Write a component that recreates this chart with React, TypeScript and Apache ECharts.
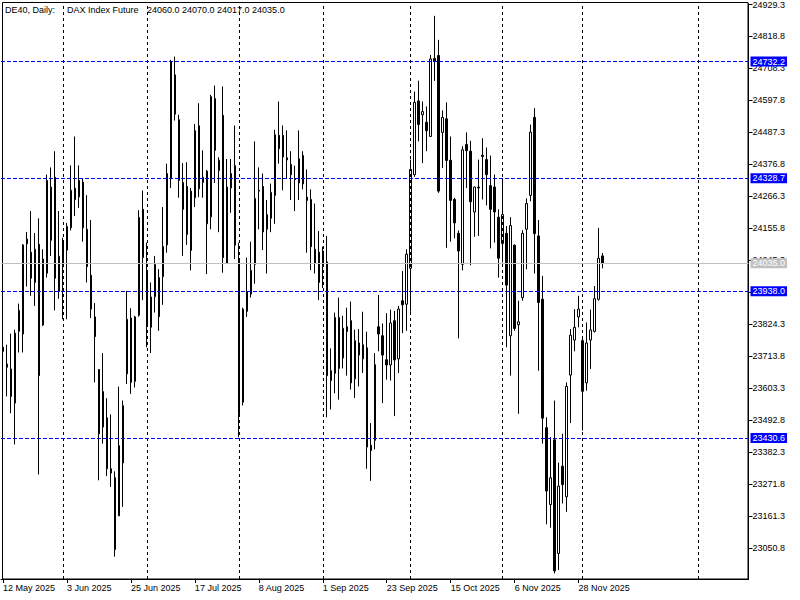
import React, { useEffect, useRef } from "react";
import * as echarts from "echarts";

// ---- Data ----
const opens = [
  23744, 23686, 23669, 23551, 23799, 23790, 24118, 24073, 23968, 24100,
  23821, 24000, 24298, 24332, 23937, 24022, 24080, 24157, 24294, 24264,
  24315, 24152, 23993, 23849, 23667, 23468, 23500, 23324, 23293, 23161,
  23344, 23652, 23845, 23626, 23855, 24221, 24010, 23813, 23919, 23985,
  23988, 24098, 24327, 24686, 24531, 24221, 24300, 24079, 24261, 24510,
  24314, 24353, 24195, 24604, 24355, 24546, 24034, 24295, 24372, 24049,
  23554, 23868, 23928, 24031, 24284, 24300, 24152, 24190, 24269, 24477,
  24477, 24399, 24376, 24327, 24312, 24407, 24263, 24255, 24034, 24073,
  24023, 24039, 23663, 23654, 23847, 23707, 23815, 23836, 23635, 23759,
  23704, 23742, 23405, 23422, 23815, 23784, 23701, 23683, 23836, 23704,
  23905, 23893, 24017, 24341, 24596, 24548, 24522, 24473, 24743, 24753,
  24487, 24534, 24391, 24255, 24138, 24031, 24445, 24422, 24212, 24298,
  24408, 24393, 24303, 24298, 24194, 24103, 24138, 23784, 24097, 23822,
  23916, 24152, 24269, 24539, 24129, 23910, 23466, 23200, 23424, 23031,
  23333, 23227, 23648, 23769, 23849, 23767, 23621, 23769, 23799, 23910,
  24060,
];
const highs = [
  23767, 23753, 23791, 23805, 23895, 24101, 24143, 24215, 24139, 24190,
  24083, 24341, 24366, 24422, 24215, 24123, 24174, 24373, 24473, 24373,
  24327, 24270, 24184, 23897, 23669, 23724, 23568, 23512, 23315, 23608,
  23560, 23939, 23879, 23853, 24218, 24286, 24106, 23968, 24060, 24014,
  24229, 24379, 24738, 24749, 24548, 24381, 24384, 24295, 24516, 24588,
  24425, 24357, 24617, 24649, 24401, 24646, 24395, 24395, 24511, 24106,
  23881, 24054, 24109, 24456, 24366, 24345, 24253, 24310, 24496, 24594,
  24511, 24494, 24422, 24372, 24494, 24422, 24359, 24290, 24241, 24146,
  24092, 24129, 23740, 23864, 23916, 23853, 23881, 23902, 23805, 23807,
  23867, 23798, 23482, 23724, 23925, 23826, 23862, 23874, 23870, 23887,
  24008, 24083, 24393, 24628, 24666, 24594, 24577, 24755, 24890, 24807,
  24563, 24591, 24473, 24261, 24148, 24439, 24487, 24458, 24300, 24393,
  24467, 24435, 24407, 24341, 24221, 24327, 24163, 24194, 24100, 23905,
  24149, 24259, 24514, 24571, 24184, 23991, 23502, 23433, 23560, 23345,
  23445, 23623, 23807, 23876, 23922, 23775, 23830, 23874, 23956, 24157,
  24070,
];
const lows = [
  23698, 23574, 23516, 23408, 23726, 23726, 23954, 23922, 23887, 23304,
  23818, 23985, 24060, 23872, 23912, 23841, 23841, 24148, 24198, 24226,
  24109, 23968, 23845, 23623, 23284, 23411, 23299, 23261, 23020, 23161,
  23192, 23617, 23583, 23605, 23850, 23907, 23744, 23724, 23864, 23801,
  23891, 24071, 24295, 24528, 24261, 24060, 24098, 24010, 24229, 24263,
  24261, 23997, 24152, 24312, 24142, 24002, 24034, 24209, 24049, 23433,
  23543, 23849, 23916, 23964, 24152, 24080, 23999, 24142, 24171, 24379,
  24287, 24327, 24253, 24215, 24253, 24290, 24071, 24011, 23999, 23907,
  23949, 23502, 23529, 23585, 23563, 23671, 23646, 23598, 23569, 23609,
  23655, 23324, 23282, 23391, 23730, 23551, 23632, 23629, 23506, 23655,
  23793, 23801, 23867, 24333, 24456, 24381, 24422, 24473, 24665, 24278,
  24364, 24088, 24109, 24121, 23775, 24010, 24295, 24028, 24126, 24129,
  24255, 24235, 24086, 24106, 23985, 24037, 23744, 23646, 23801, 23514,
  23905, 24014, 24249, 23999, 23663, 23411, 23132, 23120, 22962, 22974,
  23204, 23175, 23482, 23730, 23813, 23456, 23594, 23669, 23795, 23905,
  24017,
];
const closes = [
  23730, 23675, 23574, 23793, 23872, 24098, 24102, 23983, 24083, 23646,
  24049, 24321, 24114, 23983, 24059, 24108, 24162, 24287, 24255, 24321,
  24157, 24023, 23876, 23781, 23445, 23591, 23324, 23309, 23045, 23404,
  23542, 23841, 23623, 23849, 24193, 24054, 23816, 23918, 24031, 23850,
  24093, 24345, 24732, 24550, 24321, 24314, 24134, 24284, 24493, 24292,
  24332, 24171, 24611, 24425, 24391, 24054, 24298, 24345, 24097, 23514,
  23876, 23937, 24010, 24259, 24287, 24143, 24203, 24280, 24479, 24431,
  24402, 24392, 24341, 24324, 24396, 24309, 24252, 24092, 24083, 23968,
  24077, 23646, 23629, 23847, 23671, 23810, 23799, 23621, 23767, 23717,
  23753, 23399, 23387, 23684, 23790, 23717, 23683, 23828, 23700, 23876,
  23891, 24066, 24359, 24591, 24514, 24559, 24493, 24741, 24732, 24284,
  24539, 24390, 24252, 24174, 24077, 24427, 24424, 24247, 24298, 24295,
  24404, 24341, 24221, 24212, 24052, 24203, 23959, 24165, 23809, 23832,
  24138, 24241, 24488, 24137, 23899, 23499, 23247, 23293, 22971, 23264,
  23269, 23609, 23786, 23813, 23876, 23592, 23759, 23804, 23912, 24052,
  24035,
];

const firstBarDate = "2025-05-12";
const totalSlots = 187;
const xTickLabels = [
  "12 May 2025", "3 Jun 2025", "25 Jun 2025", "17 Jul 2025", "8 Aug 2025",
  "1 Sep 2025", "23 Sep 2025", "15 Oct 2025", "6 Nov 2025", "28 Nov 2025",
];
const xTickEvery = 16;
const monthStarts = [
  "2025-06-02", "2025-07-01", "2025-08-01", "2025-09-01", "2025-10-01",
  "2025-11-03", "2025-12-01", "2026-01-01",
];
const yTickValues = [
  24929.3, 24818.8, 24708.3, 24597.8, 24487.3, 24376.8, 24266.3, 24155.8,
  24045.3, 23934.8, 23824.3, 23713.8, 23603.3, 23492.8, 23382.3, 23271.8,
  23161.3, 23050.8,
];
const levelLines = [24732.2, 24328.7, 23938.0, 23430.6];
const lastPrice = 24035.0;
const yMin = 22942.8;
const yMax = 24931.7;
const titleParts = ["DE40, Daily:", "DAX Index Future", "24060.0 24070.0 24017.0 24035.0"];

const FONT = "Liberation Sans, Arial, sans-serif";

function isoDate(d: Date) {
  return d.toISOString().slice(0, 10);
}

function buildCategories(): string[] {
  const out: string[] = [];
  const d = new Date(firstBarDate + "T00:00:00Z");
  while (out.length < opens.length) {
    const wd = d.getUTCDay();
    if (wd !== 0 && wd !== 6) out.push(isoDate(d));
    d.setUTCDate(d.getUTCDate() + 1);
  }
  while (out.length < totalSlots) {
    out.push(isoDate(d));
    d.setUTCDate(d.getUTCDate() + 1);
  }
  return out;
}

export default function App() {
  const ref = useRef<HTMLDivElement>(null);

  useEffect(() => {
    document.body.style.margin = "0";
    if (!ref.current) return;
    const chart = echarts.init(ref.current, undefined, { renderer: "svg" });
    const categories = buildCategories();
    const data = opens.map((o, i) => [o, closes[i], lows[i], highs[i]]);
    const tickShown = (index: number) =>
      index % xTickEvery === 0 && index / xTickEvery < xTickLabels.length;

    const markData: any[] = [];
    monthStarts.forEach((m) => {
      markData.push({
        xAxis: m,
        lineStyle: { color: "#000", type: [3, 3], width: 1 },
        label: { show: false },
      });
    });
    markData.push({
      yAxis: lastPrice,
      lineStyle: { color: "#c0c0c0", type: "solid", width: 1 },
      label: {
        show: true,
        position: "end",
        distance: 2,
        formatter: lastPrice.toFixed(1),
        backgroundColor: "#c0c0c0",
        color: "#fff",
        padding: [1, 2, 0, 2],
        fontSize: 9,
        lineHeight: 9,
        fontFamily: FONT,
      },
    });
    levelLines.forEach((v) => {
      markData.push({
        yAxis: v,
        lineStyle: { color: "#0000ff", type: [4, 2], width: 1 },
        label: {
          show: true,
          position: "end",
          distance: 2,
          formatter: v.toFixed(1),
          backgroundColor: "#0000ff",
          color: "#fff",
          padding: [1, 2, 0, 2],
          fontSize: 9,
          lineHeight: 9,
          fontFamily: FONT,
        },
      });
    });

    const titleX = [5, 67, 147];

    chart.setOption({
      animation: false,
      backgroundColor: "#fff",
      grid: { left: 0.5, top: 2, width: 748, height: 577, show: false },
      graphic: [
        {
          type: "rect",
          z: 0,
          shape: { x: 2.5, y: 2.5, width: 745.5, height: 576.5 },
          style: { fill: "none", stroke: "#000", lineWidth: 1 },
          silent: true,
        },
        ...titleParts.map((t, i) => ({
          type: "text",
          x: titleX[i],
          y: 9.5,
          silent: true,
          style: {
            text: t,
            fill: "#000",
            fontSize: 9,
            fontFamily: FONT,
            verticalAlign: "middle",
            align: "left",
          },
        })),
      ],
      xAxis: {
        type: "category",
        data: categories,
        boundaryGap: true,
        axisLine: { show: true, lineStyle: { color: "#000", width: 1 } },
        axisTick: {
          show: true,
          alignWithLabel: true,
          interval: (index: number) => tickShown(index),
          length: 4,
          lineStyle: { color: "#000" },
        },
        axisLabel: {
          show: true,
          interval: (index: number) => tickShown(index),
          formatter: (_v: string, index: number) =>
            tickShown(index) ? xTickLabels[index / xTickEvery] : "",
          align: "left",
          margin: 4,
          color: "#000",
          fontSize: 9,
          fontFamily: FONT,
          hideOverlap: false,
        },
        splitLine: { show: false },
      },
      yAxis: {
        type: "value",
        position: "right",
        min: yMin,
        max: yMax,
        splitLine: { show: false },
        axisLine: { show: true, lineStyle: { color: "#000", width: 1 } },
        axisTick: {
          show: true,
          length: 4,
          customValues: yTickValues,
          lineStyle: { color: "#000" },
        },
        axisLabel: {
          show: true,
          customValues: yTickValues,
          formatter: (v: number) => v.toFixed(1),
          color: "#000",
          fontSize: 9,
          fontFamily: FONT,
          margin: 4,
          hideOverlap: false,
        },
      },
      series: [
        {
          type: "candlestick",
          data,
          barWidth: 2,
          itemStyle: {
            color: "#fff",
            color0: "#000",
            borderColor: "#000",
            borderColor0: "#000",
            borderWidth: 1,
          },
          markLine: {
            silent: true,
            symbol: ["none", "none"],
            animation: false,
            data: markData,
          },
        },
      ],
    });
    return () => chart.dispose();
  }, []);

  return <div ref={ref} style={{ width: 800, height: 600 }} />;
}
